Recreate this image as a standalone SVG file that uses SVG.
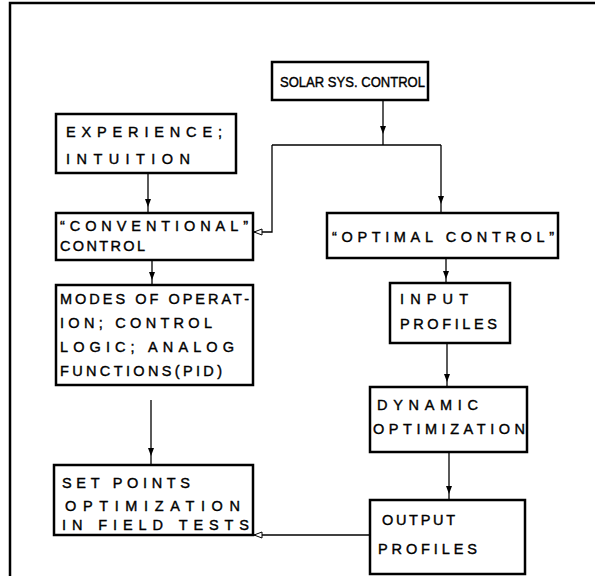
<svg xmlns="http://www.w3.org/2000/svg" width="595" height="576" viewBox="0 0 595 576">
<style>
.box{fill:#fff;stroke:#000;stroke-width:2.5}
.t{font-family:"Liberation Sans",Arial,sans-serif;font-size:14.5px;fill:#000;stroke:#000;stroke-width:0.4}
.c{fill:none;stroke:#000;stroke-width:1.3}
.frame{fill:none;stroke:#000;stroke-width:2.5}
</style>
<defs>
<marker id="fa" markerWidth="8" markerHeight="8" refX="4" refY="4" orient="auto" markerUnits="userSpaceOnUse">
<path d="M0,1 L8,4 L0,7 Z" fill="#000"/>
</marker>
<marker id="oa" markerWidth="10" markerHeight="8" refX="9" refY="4" orient="auto" markerUnits="userSpaceOnUse">
<path d="M1,1 L9,4 L1,7 Z" fill="#fff" stroke="#000" stroke-width="1"/>
</marker>
</defs>
<path class="frame" d="M10,576 V3 H595"/>
<g id="connectors">
<path class="c" d="M383,100 V130" marker-end="url(#fa)"/>
<path class="c" d="M383,130 V145"/>
<path class="c" d="M272,145 H441"/>
<path class="c" d="M272,145 V232 H254" marker-end="url(#oa)"/>
<path class="c" d="M441,145 V200" marker-end="url(#fa)"/>
<path class="c" d="M441,200 V213"/>
<path class="c" d="M148,173 V203" marker-end="url(#fa)"/>
<path class="c" d="M148,203 V213"/>
<path class="c" d="M152,260 V276" marker-end="url(#fa)"/>
<path class="c" d="M152,276 V285"/>
<path class="c" d="M151,400 V452" marker-end="url(#fa)"/>
<path class="c" d="M151,452 V465"/>
<path class="c" d="M446,258 V275" marker-end="url(#fa)"/>
<path class="c" d="M446,275 V283"/>
<path class="c" d="M447,343 V378" marker-end="url(#fa)"/>
<path class="c" d="M447,378 V387"/>
<path class="c" d="M449,452 V490" marker-end="url(#fa)"/>
<path class="c" d="M449,490 V500"/>
<path class="c" d="M370,535 H254" marker-end="url(#oa)"/>
</g>
<g id="solar">
<rect class="box" x="272" y="62" width="156" height="38"/>
<text class="t" x="280" y="87" textLength="145" lengthAdjust="spacingAndGlyphs">SOLAR SYS. CONTROL</text>
</g>
<g id="experience">
<rect class="box" x="56" y="114" width="180" height="59"/>
<text class="t" x="66" y="137" textLength="156" lengthAdjust="spacing">EXPERIENCE;</text>
<text class="t" x="66" y="164" textLength="124" lengthAdjust="spacing">INTUITION</text>
</g>
<g id="conventional">
<rect class="box" x="56" y="213" width="197" height="47"/>
<text class="t" x="60" y="231" textLength="188" lengthAdjust="spacing">“CONVENTIONAL”</text>
<text class="t" x="60" y="251" textLength="85" lengthAdjust="spacing">CONTROL</text>
</g>
<g id="optimal">
<rect class="box" x="327" y="213" width="231" height="45"/>
<text class="t" x="332" y="242" textLength="222" lengthAdjust="spacing">“OPTIMAL CONTROL”</text>
</g>
<g id="modes">
<rect class="box" x="56" y="285" width="197" height="100"/>
<text class="t" x="60" y="304" textLength="189" lengthAdjust="spacing">MODES OF OPERAT-</text>
<text class="t" x="60" y="328" textLength="152" lengthAdjust="spacing">ION; CONTROL</text>
<text class="t" x="60" y="352" textLength="174" lengthAdjust="spacing">LOGIC; ANALOG</text>
<text class="t" x="60" y="376" textLength="162" lengthAdjust="spacing">FUNCTIONS(PID)</text>
</g>
<g id="input">
<rect class="box" x="390" y="283" width="120" height="60"/>
<text class="t" x="400" y="304" textLength="68" lengthAdjust="spacing">INPUT</text>
<text class="t" x="400" y="329" textLength="97" lengthAdjust="spacing">PROFILES</text>
</g>
<g id="dynamic">
<rect class="box" x="370" y="387" width="157" height="65"/>
<text class="t" x="377" y="410" textLength="101" lengthAdjust="spacing">DYNAMIC</text>
<text class="t" x="373" y="434" textLength="152" lengthAdjust="spacing">OPTIMIZATION</text>
</g>
<g id="setpoints">
<rect class="box" x="54" y="465" width="199" height="70"/>
<text class="t" x="62" y="488" textLength="128" lengthAdjust="spacing">SET POINTS</text>
<text class="t" x="65" y="511" textLength="175" lengthAdjust="spacing">OPTIMIZATION</text>
<text class="t" x="62" y="530" textLength="187" lengthAdjust="spacing">IN FIELD TESTS</text>
</g>
<g id="output">
<rect class="box" x="370" y="500" width="155" height="74"/>
<text class="t" x="382" y="525" textLength="73" lengthAdjust="spacing">OUTPUT</text>
<text class="t" x="378" y="554" textLength="99" lengthAdjust="spacing">PROFILES</text>
</g>
</svg>
